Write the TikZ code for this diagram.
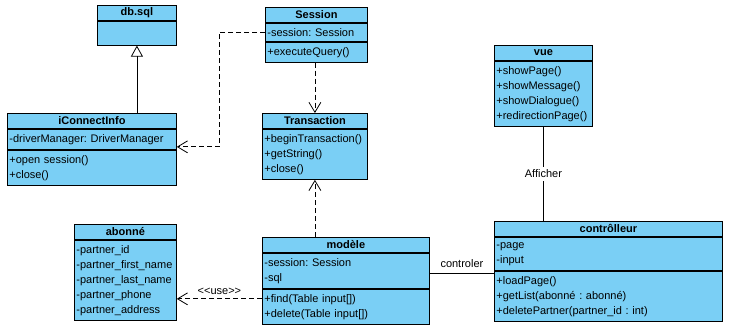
\documentclass[tikz,border=0pt]{standalone}
\usepackage{fontspec}
\setmainfont{Liberation Sans}
\usetikzlibrary{positioning, arrows.meta}
\definecolor{umlblue}{RGB}{122,207,245}
\newcommand{\umlfont}{\fontsize{11}{15}\selectfont\frenchspacing}
\tikzstyle{classHead}=[draw=black, fill=umlblue, anchor=north west, font=\umlfont\bfseries, inner xsep=2pt, inner ysep=0pt, minimum height=15pt, align=center]
\tikzstyle{classBody}=[draw=black, fill=umlblue, font=\umlfont, inner xsep=2pt, inner ysep=5pt, align=left]
\tikzstyle{dep}=[dash pattern=on 5pt off 3pt, -{Straight Barb[length=10pt, width=12pt]}]
\tikzstyle{general}=[-{Triangle[open, length=11pt, width=12pt]}]

\begin{document}
\begin{tikzpicture}[x=1pt, y=-1pt, line width=0.8pt, every node/.style={font=\umlfont}]
        \useasboundingbox (0,0) rectangle (730,333);

        % classes
        \node[classHead, text width=75pt] (dbsql) at (97,5) {db.sql};
        \node[classBody, text width=75pt, minimum height=24pt, below=0pt of dbsql] (dbsqlB) {};

        \node[classHead, text width=98pt] (sess) at (265,7) {Session};
        \node[classBody, text width=98pt, below=0pt of sess] (sessA) {-session: Session};
        \node[classBody, text width=98pt, below=0pt of sessA] (sessM) {+executeQuery()};

        \node[classHead, text width=165pt] (iconn) at (7,113) {iConnectInfo};
        \node[classBody, text width=165pt, below=0pt of iconn] (iconnA) {-driverManager: DriverManager};
        \node[classBody, text width=165pt, below=0pt of iconnA] (iconnM) {+open session()\\+close()};

        \node[classHead, text width=101pt] (trans) at (262,113) {Transaction};
        \node[classBody, text width=101pt, below=0pt of trans] (transM) {+beginTransaction()\\+getString()\\+close()};

        \node[classHead, text width=94pt] (vue) at (494,45) {vue};
        \node[classBody, text width=94pt, below=0pt of vue] (vueM) {+showPage()\\+showMessage()\\+showDialogue()\\+redirectionPage()};

        \node[classHead, text width=224pt] (ctrl) at (494,221) {contrôlleur};
        \node[classBody, text width=224pt, below=0pt of ctrl] (ctrlA) {-page\\-input};
        \node[classBody, text width=224pt, below=0pt of ctrlA] (ctrlM) {+loadPage()\\+getList(abonné : abonné)\\+deletePartner(partner\_id : int)};

        \node[classHead, text width=163pt] (modele) at (262,237) {modèle};
        \node[classBody, text width=163pt, below=0pt of modele] (modeleA) {-session: Session\\-sql};
        \node[classBody, text width=163pt, below=0pt of modeleA] (modeleM) {+find(Table input[])\\+delete(Table input[])};

        \node[classHead, text width=98pt] (abonne) at (74,224) {abonné};
        \node[classBody, text width=98pt, below=0pt of abonne] (abonneA) {-partner\_id\\-partner\_first\_name\\-partner\_last\_name\\-partner\_phone\\-partner\_address};

        % relations
        \draw[general] (dbsqlB.south |- iconn.north) -- (dbsqlB.south);
        \draw[dep] (sessA.west) -- ++(-46,0) |- ([yshift=3pt]iconnA.south east);
        \draw[dep] (trans.north |- sessM.south) -- (trans.north);
        \draw[dep] (transM.south |- modele.north) -- (transM.south);
        \draw[dep] ([yshift=-10pt]modeleM.north west) -- ([yshift=-10pt]modeleM.north west -| abonneA.east) node[midway, above, yshift=1pt] {<\kern0pt<use>\kern0pt>};
        \draw ([yshift=-3pt]modeleA.east) -- ([yshift=-3pt]modeleA.east -| ctrlA.west) node[midway, above, yshift=2pt] {controler};
        \draw (vueM.south) -- (vueM.south |- ctrl.north) node[midway, fill=white] {Afficher};
\end{tikzpicture}
\end{document}
